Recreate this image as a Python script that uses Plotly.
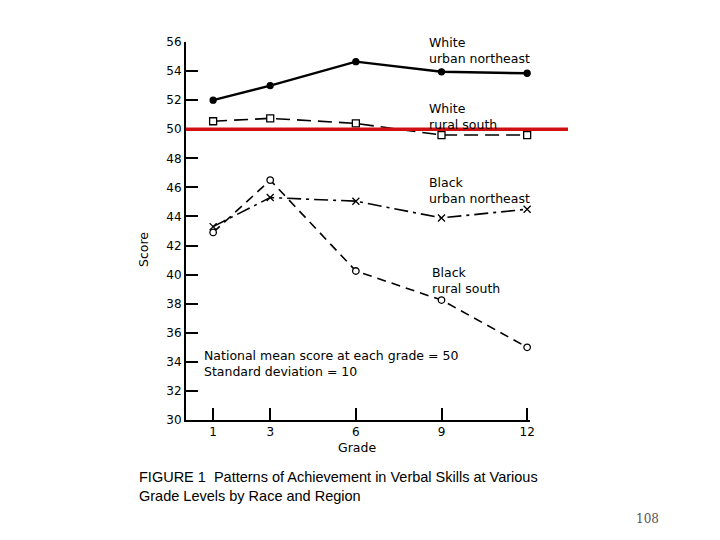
import plotly.graph_objects as go

grades = [1, 3, 6, 9, 12]
white_urban_ne = [52.0, 53.0, 54.65, 53.95, 53.85]
white_rural_s = [50.55, 50.75, 50.4, 49.6, 49.6]
black_urban_ne = [43.3, 45.3, 45.05, 43.9, 44.5]
black_rural_s = [42.9, 46.5, 40.25, 38.25, 35.0]
y_ticks = list(range(30, 57, 2))
national_mean = 50

OFF = 8  # page body margin
W, H = 720 - 2 * OFF, 540 - 2 * OFF
L, T = 186 - OFF, 42 - OFF
plot_right, plot_bottom = 530 - OFF, 420 - OFF
R, B = W - plot_right, H - plot_bottom
pw, ph = W - L - R, H - T - B

def px(x):
    return (x - OFF - L) / pw

def py(y):
    return (H - B - (y - OFF)) / ph

fig = go.Figure()

def add(yv, dash, symbol, size, fill, width):
    fig.add_trace(go.Scatter(
        x=grades, y=yv, mode="lines+markers",
        line=dict(color="black", width=width, dash=dash),
        marker=dict(symbol=symbol, size=size, color=fill,
                    line=dict(color="black", width=1.3)),
        showlegend=False, cliponaxis=False))

add(white_urban_ne, "solid", "circle", 6, "black", 2.4)
add(white_rural_s, "14px,7px", "square", 7, "white", 1.6)
add(black_urban_ne, "14px,5px,3px,5px", "x-thin", 7, "black", 1.6)
add(black_rural_s, "9px,6px", "circle", 6.5, "white", 1.6)

fig.add_shape(type="line", xref="paper", yref="y", x0=0, x1=px(568),
              y0=national_mean, y1=national_mean,
              line=dict(color="#d01010", width=3.5))

lab_font = dict(family="DejaVu Sans", size=12.5, color="black")

def text(s, x, y, xanchor="left", font=None, **kw):
    fig.add_annotation(text=s, xref="paper", yref="paper", x=px(x), y=py(y),
                       xanchor=xanchor, yanchor="middle", showarrow=False,
                       font=font or lab_font, align="left", **kw)

text("White<br>urban northeast", 427, 50)
text("White<br>rural south", 427, 116)
text("Black<br>urban northeast", 427, 190)
text("Black<br>rural south", 430, 280)
text("National mean score at each grade = 50<br>Standard deviation = 10", 202, 363)
text("Score", 143, 250, xanchor="center", textangle=-90)
text("Grade", 357, 448, xanchor="center")

cap_font = dict(family="Liberation Sans", size=14.5, color="black")
text("FIGURE 1  Patterns of Achievement in Verbal Skills at Various<br>Grade Levels by Race and Region",
     137, 486, font=cap_font)
text("108", 634, 519, font=dict(family="DejaVu Serif", size=12, color="#555555"))

fig.update_layout(
    width=W, height=H, margin=dict(l=L, r=R, t=T, b=B),
    plot_bgcolor="white", paper_bgcolor="white",
    xaxis=dict(range=[0.05, 12.1], tickvals=grades, ticks="inside", ticklen=12,
               tickwidth=1.5, tickcolor="black", showline=True, linecolor="black",
               linewidth=2, showgrid=False, zeroline=False,
               tickfont=dict(family="DejaVu Sans", size=12, color="black")),
    yaxis=dict(range=[30, 56], tickvals=y_ticks, ticks="inside", ticklen=12,
               tickwidth=1.5, tickcolor="black", showline=True, linecolor="black",
               linewidth=2, showgrid=False, zeroline=False, ticklabelstandoff=0,
               tickfont=dict(family="DejaVu Sans", size=12, color="black")),
)

fig.write_html("out.html")
